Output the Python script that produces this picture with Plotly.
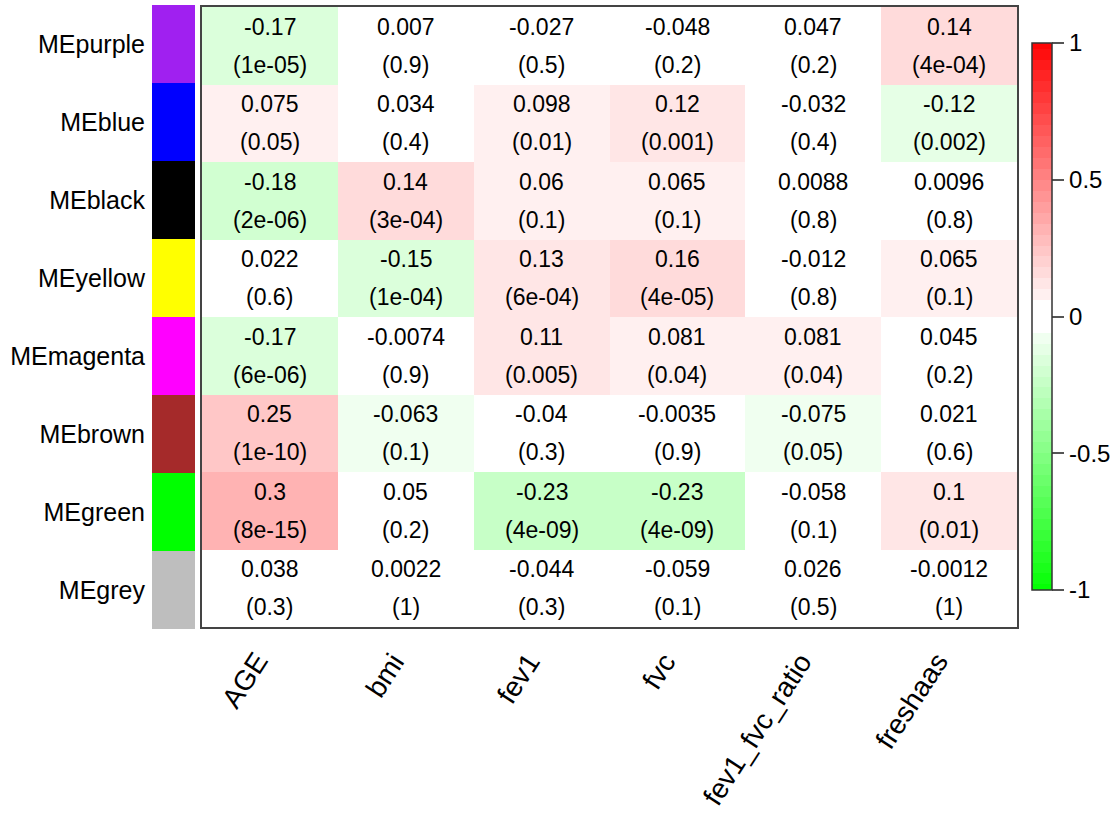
import plotly.graph_objects as go

# Module eigengenes (rows, top to bottom) and their colours
modules = ["MEpurple", "MEblue", "MEblack", "MEyellow",
           "MEmagenta", "MEbrown", "MEgreen", "MEgrey"]
module_colors = ["#A020F0", "#0000FF", "#000000", "#FFFF00",
                 "#FF00FF", "#A52A2A", "#00FF00", "#BEBEBE"]

# Clinical traits (columns)
traits = ["AGE", "bmi", "fev1", "fvc", "fev1_fvc_ratio", "freshaas"]

# Module-trait correlations
cor_purple = [-0.17, 0.007, -0.027, -0.048, 0.047, 0.14]
cor_blue = [0.075, 0.034, 0.098, 0.12, -0.032, -0.12]
cor_black = [-0.18, 0.14, 0.06, 0.065, 0.0088, 0.0096]
cor_yellow = [0.022, -0.15, 0.13, 0.16, -0.012, 0.065]
cor_magenta = [-0.17, -0.0074, 0.11, 0.081, 0.081, 0.045]
cor_brown = [0.25, -0.063, -0.04, -0.0035, -0.075, 0.021]
cor_green = [0.3, 0.05, -0.23, -0.23, -0.058, 0.1]
cor_grey = [0.038, 0.0022, -0.044, -0.059, 0.026, -0.0012]

# Student p-values of the correlations
p_purple = [1e-05, 0.9, 0.5, 0.2, 0.2, 4e-04]
p_blue = [0.05, 0.4, 0.01, 0.001, 0.4, 0.002]
p_black = [2e-06, 3e-04, 0.1, 0.1, 0.8, 0.8]
p_yellow = [0.6, 1e-04, 6e-04, 4e-05, 0.8, 0.1]
p_magenta = [6e-06, 0.9, 0.005, 0.04, 0.04, 0.2]
p_brown = [1e-10, 0.1, 0.3, 0.9, 0.05, 0.6]
p_green = [8e-15, 0.2, 4e-09, 4e-09, 0.1, 0.01]
p_grey = [0.3, 1, 0.3, 0.1, 0.5, 1]

cor = [cor_purple, cor_blue, cor_black, cor_yellow,
       cor_magenta, cor_brown, cor_green, cor_grey]
pval = [p_purple, p_blue, p_black, p_yellow,
        p_magenta, p_brown, p_green, p_grey]

colorbar_ticks = [1, 0.5, 0, -0.5, -1]
colorbar_ticktext = ["1", "0.5", "0", "-0.5", "-1"]


def fmt_p(p):
    """Print a p-value the way R's signif(p, 1) is printed."""
    fixed = ("%.15f" % p).rstrip("0").rstrip(".")
    sci = "%.0e" % p
    return fixed if len(fixed) <= len(sci) else sci


def green_white_red(white=0.0595, step=0.04):
    """Stepped green-white-red colorscale on [-1, 1] with a white centre band."""
    edges = [white]
    while edges[-1] + step < 1 - 1e-9:
        edges.append(round(edges[-1] + step, 6))
    edges.append(1.0)

    def pos(v):
        return (v + 1) / 2

    def red(k):
        c = int(round(255 * (1 - k)))
        return f"rgb(255,{c},{c})"

    def green(k):
        c = int(round(255 * (1 - k)))
        return f"rgb({c},255,{c})"

    scale = []
    # green half, from -1 up to -white
    for i in range(len(edges) - 1, 0, -1):
        lo, hi = -edges[i], -edges[i - 1]
        col = green(edges[i - 1])
        scale += [[pos(lo), col], [pos(hi), col]]
    # white centre
    scale += [[pos(-white), "rgb(255,255,255)"], [pos(white), "rgb(255,255,255)"]]
    # red half, from white up to 1
    for i in range(len(edges) - 1):
        lo, hi = edges[i], edges[i + 1]
        col = red(edges[i])
        scale += [[pos(lo), col], [pos(hi), col]]
    return scale


W, H = 1118, 822
FONT = "Liberation Sans, Arial, sans-serif"

n_rows, n_cols = len(modules), len(traits)
row_idx = list(range(n_rows))
col_idx = list(range(n_cols))

plot_left, plot_right = 202, 1017
plot_top, plot_bottom = 7, 627

fig = go.Figure()

# Correlation heatmap
fig.add_trace(go.Heatmap(
    z=cor, x=col_idx, y=row_idx,
    zmin=-1, zmax=1, colorscale=green_white_red(),
    xgap=0, ygap=0, hoverinfo="skip",
    colorbar=dict(
        x=1032 / W, xanchor="left", y=1 - 316.5 / H, yanchor="middle",
        len=547 / H, lenmode="fraction", thickness=20,
        xpad=0, ypad=0, outlinewidth=1.5, outlinecolor="#333333",
        tickmode="array", tickvals=colorbar_ticks, ticktext=colorbar_ticktext,
        ticks="outside", ticklen=12, tickwidth=2, tickcolor="#555555",
        tickfont=dict(family=FONT, size=24, color="black"),
    ),
    xaxis="x", yaxis="y",
))

# Module colour strip
strip_scale = []
for i, c in enumerate(module_colors):
    strip_scale.append([i / n_rows, c])
    strip_scale.append([(i + 1) / n_rows, c])
fig.add_trace(go.Heatmap(
    z=[[i] for i in row_idx], x=[0], y=row_idx,
    zmin=0, zmax=n_rows, colorscale=strip_scale, showscale=False,
    hoverinfo="skip", xaxis="x2", yaxis="y2",
))

# Cell labels: correlation on the first line, p-value in brackets below
annotations = []
for r in row_idx:
    for c in col_idx:
        annotations.append(dict(
            x=c, y=r, xref="x", yref="y", text=str(cor[r][c]),
            showarrow=False, yshift=19, xanchor="center", yanchor="middle",
            font=dict(family=FONT, size=23, color="black"),
        ))
        annotations.append(dict(
            x=c, y=r, xref="x", yref="y", text="(" + fmt_p(pval[r][c]) + ")",
            showarrow=False, yshift=-19, xanchor="center", yanchor="middle",
            font=dict(family=FONT, size=23, color="black"),
        ))

# Rotated trait labels under the heatmap
for c in col_idx:
    annotations.append(dict(
        x=c, y=1 - plot_bottom / H, xref="x", yref="paper",
        text=traits[c], textangle=-57, showarrow=False,
        xanchor="right", yanchor="top", xshift=7, yshift=-18,
        font=dict(family=FONT, size=28, color="black"),
    ))

fig.update_layout(
    width=W, height=H,
    margin=dict(l=0, r=0, t=0, b=0),
    paper_bgcolor="white", plot_bgcolor="white",
    showlegend=False,
    annotations=annotations,
    xaxis=dict(
        domain=[plot_left / W, plot_right / W], range=[-0.5, n_cols - 0.5],
        showticklabels=False, ticks="", showgrid=False, zeroline=False,
        showline=True, mirror=True, linecolor="#444444", linewidth=2,
        anchor="y", automargin=False,
    ),
    yaxis=dict(
        domain=[1 - plot_bottom / H, 1 - plot_top / H],
        range=[n_rows - 0.5, -0.5],
        showticklabels=False, ticks="", showgrid=False, zeroline=False,
        showline=True, mirror=True, linecolor="#444444", linewidth=2,
        anchor="x", automargin=False,
    ),
    xaxis2=dict(
        domain=[152 / W, 195 / W], range=[-0.5, 0.5],
        showticklabels=False, ticks="", showgrid=False, zeroline=False,
        showline=False, anchor="y2", automargin=False,
    ),
    yaxis2=dict(
        domain=[1 - 629 / H, 1 - 5 / H], range=[n_rows - 0.5, -0.5],
        tickmode="array", tickvals=row_idx, ticktext=modules,
        ticks="outside", ticklen=1, tickcolor="rgba(0,0,0,0)",
        tickfont=dict(family=FONT, size=25, color="black"),
        showgrid=False, zeroline=False, showline=False,
        anchor="x2", automargin=False,
    ),
)

fig.write_html("out.html")
